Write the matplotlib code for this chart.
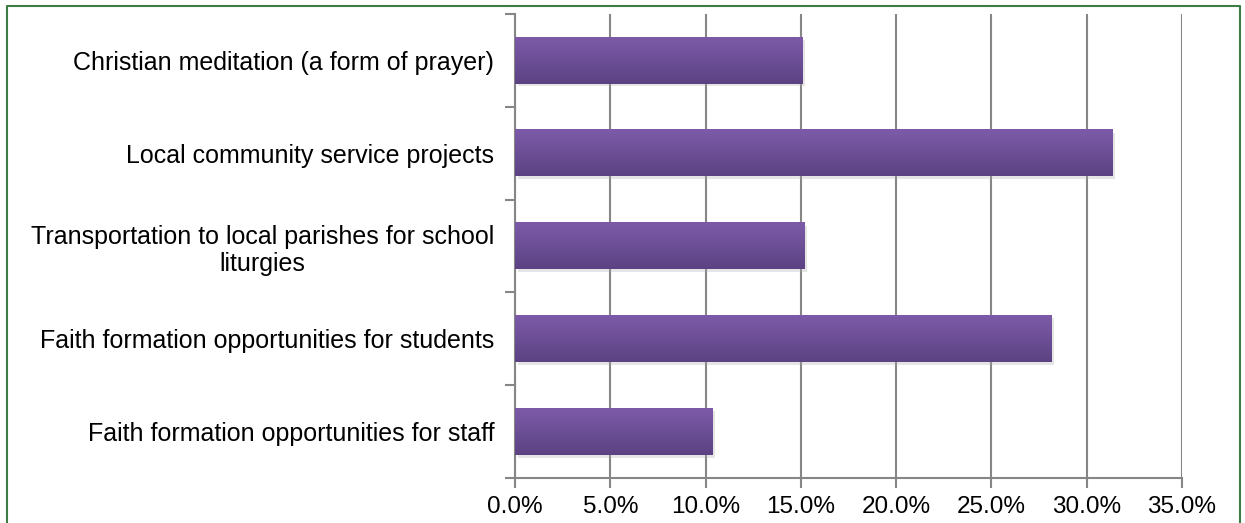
import numpy as np
import matplotlib.pyplot as plt
import matplotlib.patheffects as pe
from matplotlib.colors import LinearSegmentedColormap
from matplotlib.lines import Line2D

plt.rcParams['font.family'] = ['Liberation Sans', 'DejaVu Sans']

# bottom to top, as barh draws them
categories = [
    'Faith formation opportunities for staff',
    'Faith formation opportunities for students',
    'Transportation to local parishes for school\nliturgies',
    'Local community service projects',
    'Christian meditation (a form of prayer)',
]
values = [10.35, 28.15, 15.2, 31.35, 15.07]
x_ticks = [0, 5, 10, 15, 20, 25, 30, 35]

grey = '#868686'
purple_map = LinearSegmentedColormap.from_list('bar', ['#5c4282', '#6c4f96', '#7d5aa8'])

fig = plt.figure(figsize=(12.45, 5.23), dpi=100)
ax = fig.add_axes([0.4137, 0.086, 0.5357, 0.8872])

y = np.arange(len(categories))
bars = ax.barh(y, values, height=0.5, facecolor='none', edgecolor='none', zorder=2)

grad = np.linspace(0, 1, 100).reshape(-1, 1)
for b in bars:
    x0, y0, w, h = b.get_x(), b.get_y(), b.get_width(), b.get_height()
    b.set_path_effects([pe.SimplePatchShadow(offset=(2, -2), shadow_rgbFace='#aaaaaa', alpha=0.3)])
    ax.imshow(grad, extent=[x0, x0 + w, y0, y0 + h], cmap=purple_map, origin='lower',
              aspect='auto', zorder=3, interpolation='bilinear')

ax.set_xlim(0, 35)
ax.set_ylim(-0.5, len(categories) - 0.5)

ax.set_xticks(x_ticks)
ax.set_xticklabels(['%.1f%%' % t for t in x_ticks], fontsize=17.5)
ax.set_yticks(y)
ax.set_yticklabels(categories, fontsize=18, ha='right', multialignment='center')
ax.tick_params(axis='y', length=0, pad=15)
ax.set_yticks(np.arange(-0.5, len(categories)), minor=True)
ax.tick_params(axis='y', which='minor', length=7, width=1.5, color=grey, direction='out')
ax.tick_params(axis='x', length=7, width=1.5, color=grey, direction='out', pad=6)

ax.grid(axis='x', color=grey, linewidth=1.5, zorder=0)
ax.set_axisbelow(True)
for s in ['top', 'right']:
    ax.spines[s].set_visible(False)
for s in ['left', 'bottom']:
    ax.spines[s].set_color(grey)
    ax.spines[s].set_linewidth(1.5)

# green frame round the chart (open at the bottom)
W, H = 1245, 523
green = '#3d7d45'
fig.add_artist(Line2D([7 / W, 7 / W, 1240 / W, 1240 / W], [0, 1 - 6 / H, 1 - 6 / H, 0],
                      color=green, linewidth=1.5, transform=fig.transFigure))

fig.savefig('out.png', dpi=100)
